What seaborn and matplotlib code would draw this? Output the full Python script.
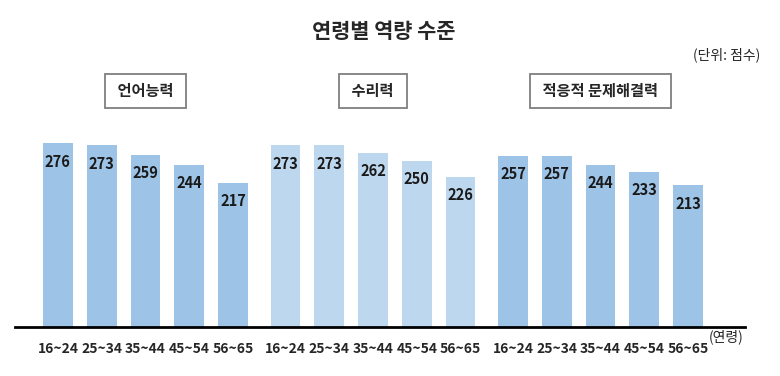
import matplotlib
matplotlib.use("Agg")
import matplotlib.pyplot as plt
import matplotlib.transforms as mtransforms
import numpy as np
import pandas as pd
import seaborn as sns

# values
ages = ["16~24", "25~34", "35~44", "45~54", "56~65"]
groups = ["언어능력", "수리력", "적응적 문제해결력"]
literacy = [276, 273, 259, 244, 217]
numeracy = [273, 273, 262, 250, 226]
problem_solving = [257, 257, 244, 233, 213]

colors = {"언어능력": "#9DC3E6", "수리력": "#BDD7EE", "적응적 문제해결력": "#9DC3E6"}

# group spacing (in bar slots)
group_step = 5.2

rows = []
for g, (name, vals) in enumerate(zip(groups, [literacy, numeracy, problem_solving])):
    for i, (age, v) in enumerate(zip(ages, vals)):
        rows.append({"group": name, "age": age, "score": v, "pos": g * group_step + i})
df = pd.DataFrame(rows)

sns.set_style("white")
plt.rcParams["font.family"] = ["Noto Sans CJK KR", "DejaVu Sans"]

fig = plt.figure(figsize=(7.8, 3.76), dpi=100)
ax = fig.add_axes([15 / 780, 49 / 376, 730 / 780, 197 / 376])

sns.barplot(
    data=df,
    x="pos",
    y="score",
    hue="group",
    palette=colors,
    native_scale=True,
    dodge=False,
    width=0.68,
    saturation=1,
    linewidth=0,
    edgecolor="none",
    legend=False,
    ax=ax,
)

for c in ax.containers:
    ax.bar_label(c, padding=-19, fontsize=10.5, fontweight="bold", color="#1a1a1a")

ax.set_xlim(-0.98, 15.7)
ax.set_ylim(0, 296)
ax.set_xticks(df["pos"])
ax.set_xticklabels(df["age"], fontsize=10, fontweight="bold")
ax.tick_params(axis="x", length=0, pad=11)
ax.set_yticks([])
ax.set_xlabel("")
ax.set_ylabel("")
for s in ["top", "left", "right"]:
    ax.spines[s].set_visible(False)
ax.spines["bottom"].set_color("black")
ax.spines["bottom"].set_linewidth(2)

# group name boxes
trans = mtransforms.blended_transform_factory(ax.transData, fig.transFigure)
for g, name in enumerate(groups):
    ax.text(
        g * group_step + 2,
        1 - 91 / 376,
        " " + name + " ",
        transform=trans,
        ha="center",
        va="center",
        fontsize=11,
        fontweight="bold",
        bbox=dict(boxstyle="square,pad=0.6", facecolor="white", edgecolor="#7f7f7f", linewidth=1.3),
    )

fig.text(384 / 780, 1 - 32 / 376, "연령별 역량 수준", ha="center", va="center",
         fontsize=15, fontweight="bold")
fig.text(760 / 780, 1 - 55 / 376, "(단위: 점수)", ha="right", va="center", fontsize=10)
fig.text(743 / 780, 1 - 337 / 376, "(연령)", ha="right", va="center", fontsize=10)

fig.savefig("out.png", dpi=100)
